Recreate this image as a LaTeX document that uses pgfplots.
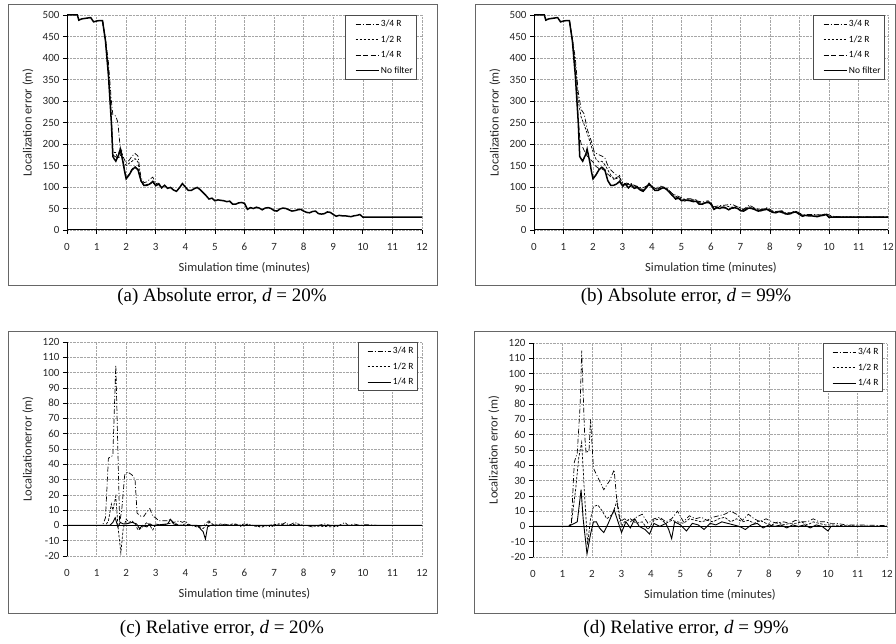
\documentclass[border=0pt]{standalone}
\usepackage{pgfplots}
\usepackage{pgfplotstable}
\pgfplotsset{compat=1.18}
\usepackage{fontspec}
\setmainfont{Carlito}
\newfontfamily\timesf{Liberation Serif}

% no-filter curve, shared by (a) and (b)
\pgfplotstableread{
x y
0 500
0.1 500
0.2 500
0.3 500
0.35 500
0.4 488
0.5 491
0.6 492
0.7 493
0.8 494
0.9 484
1.0 486
1.1 487
1.2 487
1.3 440
1.4 360
1.5 250
1.55 171
1.6 165
1.65 160
1.7 168
1.75 175
1.8 188
1.85 172
1.9 155
1.95 135
2.0 119
2.1 128
2.2 140
2.3 146
2.4 140
2.5 115
2.6 104
2.7 104
2.8 107
2.9 113
3.0 103
3.1 107
3.2 98
3.3 104
3.4 97
3.5 99
3.6 93
3.7 90
3.8 98
3.9 108
4.0 100
4.1 92
4.2 92
4.3 96
4.4 99
4.5 94
4.6 87
4.7 80
4.8 72
4.9 74
5.0 68
5.1 70
5.2 69
5.3 68
5.4 66
5.5 67
5.6 60
5.7 60
5.8 63
5.9 64
6.0 62
6.1 48
6.2 52
6.3 50
6.4 53
6.5 51
6.6 47
6.7 51
6.8 52
6.9 50
7.0 45
7.1 44
7.2 49
7.3 51
7.4 50
7.5 47
7.6 44
7.7 45
7.8 47
7.9 48
8.0 44
8.1 41
8.2 40
8.3 43
8.4 44
8.5 38
8.6 37
8.7 38
8.8 42
8.9 41
9.0 36
9.1 32
9.2 34
9.3 33
9.4 33
9.5 32
9.6 31
9.7 33
9.8 34
9.9 36
10.0 30
12 30
}\nofilter

\pgfplotsset{
  excel/.style={
    scale only axis, anchor=south west,
    xmin=0, xmax=12, xtick={0,...,12},
    grid=major,
    grid style={black!35, densely dotted, line width=0.6pt},
    axis line style={draw=none},
    tick pos=left, tick align=outside,
    major tick length=4pt,
    tick style={black, line width=0.7pt},
    ticklabel style={font=\fontsize{11}{12}\selectfont, text=black!85},
    x tick label style={yshift=-5pt, text height=8pt, text depth=0pt},
    /pgf/number format/assume math mode=true,
    xlabel={Simulation time (minutes)},
    every axis x label/.style={at={(rel axis cs:0.5,0)}, yshift=-38pt, anchor=center},
    every axis y label/.style={at={(rel axis cs:0,0.5)}, xshift=-39pt, rotate=90, anchor=center},
    label style={font=\fontsize{12.5}{13}\selectfont, text=black!85},
    legend style={at={(1,1)}, anchor=north east, xshift=-4pt,
      draw=black!70, line width=0.8pt, fill=white,
      font=\fontsize{9.5}{11}\selectfont, inner xsep=2pt, inner ysep=2.5pt,
      row sep=3.5pt, cells={anchor=west}},
    legend image code/.code={\path (0pt,0pt); \draw[line width=0.7pt,##1] (7pt,0pt) -- (30pt,0pt);},
    every axis plot/.append style={black, line width=0.7pt},
  },
  dd/.style={dash pattern=on 5pt off 2pt on 1pt off 2pt},
  sd/.style={dash pattern=on 2.5pt off 1.5pt},
  ld/.style={dash pattern=on 5pt off 2.5pt},
}

\begin{document}
\begin{tikzpicture}[x=1pt,y=1pt]
\useasboundingbox (0,0) rectangle (896,643);

% chart area frames
\draw[black!60, line width=1pt] (8,638) rectangle (437,357);
\draw[black!60, line width=1pt] (475,638) rectangle (895,357);
\draw[black!60, line width=1pt] (8,311) rectangle (437,30);
\draw[black!60, line width=1pt] (474,311) rectangle (895,30);

% (a)
\begin{axis}[excel, at={(67pt,413pt)}, width=355pt, height=215pt,
  ymin=0, ymax=500, ytick={0,50,...,500},
  ylabel={Localization error (m)}, legend style={xshift=-1pt}]
\addplot[dd] coordinates {(1.2,487) (1.3,445) (1.4,390) (1.5,300) (1.55,268) (1.65,265) (1.72,250) (1.8,190) (1.9,170) (2.0,155) (2.1,162) (2.2,172) (2.3,178) (2.4,172) (2.5,122) (2.6,110) (2.7,112) (2.8,118) (2.9,123) (3.0,108) (3.1,109) (3.2,100)};
\addplot[sd] coordinates {(1.2,487) (1.3,442) (1.4,370) (1.5,265) (1.55,185) (1.6,180) (1.65,180) (1.7,168) (1.8,170) (1.85,185) (1.9,158) (2.0,150) (2.1,155) (2.2,160) (2.3,166) (2.4,158) (2.5,114) (2.6,103) (2.7,106) (2.8,108) (2.9,110) (3.0,104) (3.1,107) (3.2,98)};
\addplot[ld] coordinates {(1.2,487) (1.3,441) (1.4,362) (1.5,255) (1.55,175) (1.6,172) (1.65,170) (1.7,168) (1.8,190) (1.9,158) (2.0,121) (2.1,130) (2.2,142) (2.3,148) (2.4,141) (2.5,113) (2.6,104) (2.7,104) (2.8,107) (2.9,113) (3.0,103) (3.1,107) (3.2,98)};
\addplot[line width=1.5pt] table {\nofilter};
\draw[black, line width=1.2pt] (axis cs:0,0) -- (axis cs:0,500);
\draw[black, line width=1.2pt] (axis cs:0,0) -- (axis cs:12,0);
\legend{3/4 R,1/2 R,1/4 R,No filter}
\end{axis}

% (b)
\begin{axis}[excel, at={(534pt,413pt)}, width=354pt, height=215pt,
  ymin=0, ymax=500, ytick={0,50,...,500},
  ylabel={Localization error (m)}, legend style={xshift=1pt}]
\addplot[dd] coordinates {(1.2,487) (1.3,445) (1.4,400) (1.5,320) (1.6,280) (1.7,270) (1.8,235) (1.95,205) (2.05,180) (2.2,175) (2.3,172) (2.4,168) (2.5,150) (2.6,140) (2.75,130) (2.9,122) (3.0,110) (3.1,105) (3.3,108) (3.5,100) (3.7,98) (3.9,106) (4.1,97) (4.3,102) (4.5,97) (4.7,84) (4.9,78) (5.1,72) (5.3,73) (5.5,68) (5.7,65) (5.9,68) (6.1,54) (6.3,57) (6.5,58) (6.7,60) (6.9,54) (7.1,48) (7.3,58) (7.5,50) (7.7,47) (7.9,52) (8.1,44) (8.3,42) (8.5,40) (8.7,40) (8.9,44) (9.1,35) (9.3,36) (9.5,36) (9.7,35) (9.9,38) (10.1,32) (10.3,31) (10.6,30) (12,30)};
\addplot[sd] coordinates {(1.2,487) (1.3,443) (1.4,385) (1.5,300) (1.6,262) (1.7,245) (1.8,225) (1.9,205) (2.0,182) (2.1,165) (2.2,158) (2.3,160) (2.4,152) (2.5,140) (2.6,128) (2.7,120) (2.8,122) (2.9,127) (3.0,104) (3.1,110) (3.3,106) (3.5,100) (3.7,94) (3.9,104) (4.1,96) (4.3,100) (4.5,96) (4.7,84) (4.9,74) (5.1,71) (5.3,72) (5.5,70) (5.7,62) (5.9,66) (6.1,52) (6.3,55) (6.5,56) (6.7,53) (6.9,55) (7.1,47) (7.3,54) (7.5,49) (7.7,48) (7.9,50) (8.1,42) (8.3,44) (8.5,39) (8.7,40) (8.9,43) (9.1,35) (9.3,34) (9.5,35) (9.7,35) (9.9,37) (10.1,31) (10.5,30) (12,30)};
\addplot[ld] coordinates {(1.2,487) (1.3,441) (1.4,365) (1.5,260) (1.55,215) (1.6,200) (1.7,185) (1.8,172) (1.9,165) (2.0,158) (2.1,148) (2.2,143) (2.3,142) (2.4,138) (2.5,130) (2.6,124) (2.7,118) (2.8,120) (2.9,118) (3.0,99) (3.1,110) (3.3,103) (3.5,102) (3.7,90) (3.9,106) (4.1,94) (4.3,98) (4.5,95) (4.7,78) (4.9,75) (5.1,67) (5.3,70) (5.5,67) (5.7,60) (5.9,66) (6.1,50) (6.3,53) (6.5,52) (6.7,50) (6.9,51) (7.1,43) (7.3,50) (7.5,48) (7.7,45) (7.9,48) (8.1,40) (8.3,43) (8.5,37) (8.7,38) (8.9,42) (9.1,33) (9.3,34) (9.5,32) (9.7,33) (9.9,36) (10.0,28) (10.1,30) (12,30)};
\addplot[line width=1.5pt] table {\nofilter};
\draw[black, line width=1.2pt] (axis cs:0,0) -- (axis cs:0,500);
\draw[black, line width=1.2pt] (axis cs:0,0) -- (axis cs:12,0);
\legend{3/4 R,1/2 R,1/4 R,No filter}
\end{axis}

% (c)
\begin{axis}[excel, at={(67pt,87pt)}, width=355pt, height=214pt,
  ymin=-20, ymax=120, ytick={-20,-10,...,120}, xtick style={draw=none},
  ylabel={Localizationerror (m)}]
\addplot[dd] coordinates {(0,0) (1.2,0) (1.3,5) (1.4,44) (1.5,45) (1.55,46) (1.65,105) (1.78,2) (1.85,10) (1.95,33) (2.05,35) (2.2,33) (2.3,30) (2.37,8) (2.5,6) (2.6,6) (2.7,9) (2.8,11) (2.9,6) (3.0,5) (3.1,3) (3.2,3) (3.4,3) (3.5,4) (3.6,2) (3.8,3) (3.9,2) (4.0,3) (4.1,1) (4.2,0) (4.4,-1) (4.6,0) (4.8,3) (4.9,1) (5.1,0) (5.3,1) (5.5,0) (5.7,1) (5.9,-1) (6.1,1) (6.3,0) (6.5,-1) (6.7,0) (6.9,-1) (7.1,1) (7.3,1) (7.4,2) (7.5,0) (7.7,2) (7.9,0) (8.1,0) (8.3,-1) (8.5,0) (8.7,1) (8.9,0) (9.1,-1) (9.2,0) (9.4,2) (9.5,0) (9.7,1) (9.9,0) (10.1,0.5) (10.5,0) (12,0)};
\addplot[sd] coordinates {(0,0) (1.3,0) (1.4,3) (1.5,14) (1.55,10) (1.65,19) (1.72,0) (1.82,-18) (1.9,-2) (2.0,4) (2.1,2) (2.2,3) (2.3,1) (2.4,-3) (2.5,-2) (2.6,0) (2.7,2) (2.8,0) (2.9,-3) (3.0,1) (3.2,0) (3.4,1) (3.6,2) (3.8,0) (4.0,1) (4.2,0) (4.4,-1) (4.6,-2) (4.8,2) (5.0,0) (5.2,1) (5.4,0) (5.6,1) (5.8,0) (6.0,1) (6.2,0) (6.6,-1) (6.8,0) (7.2,1) (7.4,0) (7.8,1) (8.0,0) (9.0,-1) (9.2,0) (12,0)};
\addplot[line width=0.9pt] coordinates {(0,0) (1.45,0) (1.55,2) (1.63,5) (1.72,-1) (1.8,2) (1.9,1) (2.0,1) (2.2,2) (2.35,1) (2.45,-2) (2.55,0) (2.7,-1) (2.8,1) (2.9,0) (3.4,1) (3.5,4) (3.6,1) (3.8,0) (4.4,0) (4.5,-2) (4.6,-4) (4.68,-9) (4.75,-1) (4.85,0) (12,0)};
\draw[black, line width=1.2pt] (axis cs:0,-20) -- (axis cs:0,120);
\draw[black, line width=1.2pt] (axis cs:0,0) -- (axis cs:12,0);
\legend{3/4 R,1/2 R,1/4 R}
\end{axis}

% (d)
\begin{axis}[excel, at={(533pt,86pt)}, width=354pt, height=214pt,
  ymin=-20, ymax=120, ytick={-20,-10,...,120}, xtick style={draw=none},
  ylabel={Localization error (m)}]
\addplot[dd] coordinates {(0,0) (1.2,0) (1.3,2) (1.4,42) (1.5,48) (1.6,80) (1.65,115) (1.75,60) (1.8,48) (1.9,50) (1.95,70) (2.05,38) (2.2,32) (2.4,24) (2.6,30) (2.75,37) (2.85,15) (2.95,3) (3.1,5) (3.3,3) (3.5,6) (3.7,8) (3.9,2) (4.1,5) (4.3,6) (4.5,3) (4.7,5) (4.9,10) (5.1,3) (5.3,7) (5.5,5) (5.7,6) (5.9,4) (6.1,6) (6.3,7) (6.5,8) (6.7,10) (6.9,8) (7.1,4) (7.3,8) (7.5,5) (7.7,3) (7.9,5) (8.1,3) (8.3,2) (8.5,3) (8.7,2) (8.9,4) (9.1,3) (9.3,3) (9.5,5) (9.7,3) (9.9,3) (10.1,2) (10.3,2) (10.6,1) (11,1) (12,0.5)};
\addplot[sd] coordinates {(0,0) (1.2,0) (1.3,2) (1.45,25) (1.55,45) (1.65,55) (1.75,20) (1.85,-12) (1.95,5) (2.05,13) (2.2,14) (2.35,10) (2.5,5) (2.7,8) (2.85,17) (3.0,0) (3.1,3) (3.3,5) (3.5,2) (3.7,3) (3.9,-2) (4.1,4) (4.3,5) (4.5,2) (4.7,4) (4.9,3) (5.1,2) (5.3,5) (5.5,4) (5.7,3) (5.9,4) (6.1,3) (6.3,5) (6.5,6) (6.7,3) (6.9,5) (7.1,3) (7.3,4) (7.5,2) (7.7,4) (7.9,2) (8.1,1) (8.3,3) (8.5,1) (8.7,2) (8.9,2) (9.1,3) (9.3,1) (9.5,3) (9.7,2) (9.9,1) (10.1,1) (10.5,0.5) (12,0)};
\addplot[line width=0.9pt] coordinates {(0,0) (1.2,0) (1.3,1) (1.4,2) (1.5,3) (1.63,24) (1.7,5) (1.83,-18) (1.95,-5) (2.05,3) (2.15,3) (2.25,-1) (2.4,-4) (2.55,2) (2.75,11) (2.85,5) (3.0,-4) (3.15,3) (3.3,-1) (3.45,5) (3.6,0) (3.8,-2) (3.95,-5) (4.1,2) (4.3,0) (4.5,2) (4.6,-2) (4.7,-8) (4.8,3) (5.0,1) (5.2,-3) (5.4,2) (5.6,1) (5.8,-2) (6.0,2) (6.2,1) (6.4,3) (6.6,2) (6.8,1) (7.0,0) (7.2,-2) (7.4,1) (7.6,2) (7.8,-1) (8.0,1) (8.2,0) (8.4,1) (8.6,-1) (8.8,1) (9.0,0) (9.2,1) (9.4,-1) (9.6,1) (9.8,0) (10.0,-3) (10.1,0) (12,0)};
\draw[black, line width=1.2pt] (axis cs:0,-20) -- (axis cs:0,120);
\draw[black, line width=1.2pt] (axis cs:0,0) -- (axis cs:12,0);
\legend{3/4 R,1/2 R,1/4 R}
\end{axis}

% captions
\node[font=\timesf\fontsize{19}{21}\selectfont] at (222,346) {(a) Absolute error, {\itshape d} = 20\%};
\node[font=\timesf\fontsize{19}{21}\selectfont] at (686,346) {(b) Absolute error, {\itshape d} = 99\%};
\node[font=\timesf\fontsize{19}{21}\selectfont] at (222,14) {(c) Relative error, {\itshape d} = 20\%};
\node[font=\timesf\fontsize{19}{21}\selectfont] at (686,14) {(d) Relative error, {\itshape d} = 99\%};
\end{tikzpicture}
\end{document}
